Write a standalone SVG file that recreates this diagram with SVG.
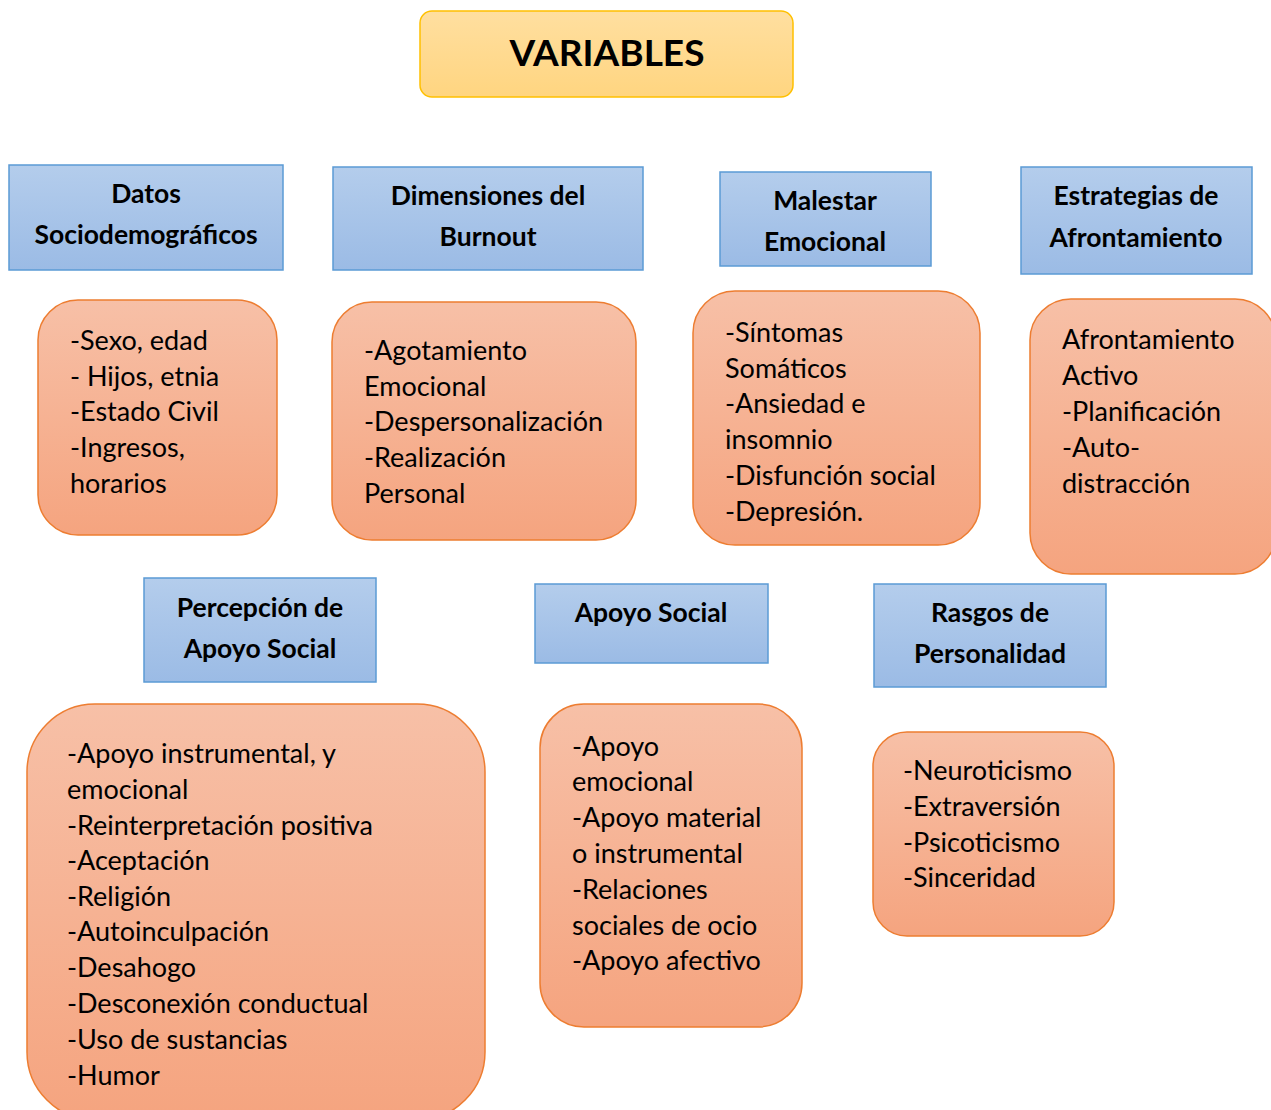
<svg xmlns="http://www.w3.org/2000/svg" width="1271" height="1110" viewBox="0 0 1271 1110">
<defs>
<linearGradient id="gY" x1="0" y1="0" x2="0" y2="1"><stop offset="0" stop-color="#FFDFA0"/><stop offset="1" stop-color="#FFD580"/></linearGradient>
<linearGradient id="gB" x1="0" y1="0" x2="0" y2="1"><stop offset="0" stop-color="#B4CDEC"/><stop offset="1" stop-color="#9BBBE5"/></linearGradient>
<linearGradient id="gO" x1="0" y1="0" x2="0" y2="1"><stop offset="0" stop-color="#F7C0A7"/><stop offset="1" stop-color="#F5A47F"/></linearGradient>
<style>
.title{fill:url(#gY);stroke:#FFC000;stroke-width:1.5}
.hdr{fill:url(#gB);stroke:#5B9BD5;stroke-width:1.5}
.box{fill:url(#gO);stroke:#ED7D31;stroke-width:1.5}
text{font-family:Lato,"Open Sans",sans-serif;fill:#000}
.t{font-size:37px;font-weight:bold;text-anchor:middle}
.h{font-size:26.5px;font-weight:bold;text-anchor:middle}
.b{font-size:27px}
</style>
</defs>
<g id="title">
<rect class="title" x="420" y="11" width="373" height="86" rx="12"/>
<text class="t" x="607" y="66">VARIABLES</text>
</g>
<g id="h-datos">
<rect class="hdr" x="9" y="165" width="274" height="105"/>
<text class="h" x="146" y="203">Datos</text>
<text class="h" x="146" y="244">Sociodemográficos</text>
</g>
<g id="h-burnout">
<rect class="hdr" x="333" y="167" width="310" height="103"/>
<text class="h" x="488" y="205">Dimensiones del</text>
<text class="h" x="488" y="246">Burnout</text>
</g>
<g id="h-malestar">
<rect class="hdr" x="720" y="172" width="211" height="94"/>
<text class="h" x="825" y="210">Malestar</text>
<text class="h" x="825" y="251">Emocional</text>
</g>
<g id="h-estrategias">
<rect class="hdr" x="1021" y="167" width="231" height="107"/>
<text class="h" x="1136" y="205">Estrategias de</text>
<text class="h" x="1136" y="247">Afrontamiento</text>
</g>
<g id="h-percepcion">
<rect class="hdr" x="144" y="578" width="232" height="104"/>
<text class="h" x="260" y="617">Percepción de</text>
<text class="h" x="260" y="658">Apoyo Social</text>
</g>
<g id="h-apoyo">
<rect class="hdr" x="535" y="584" width="233" height="79"/>
<text class="h" x="651" y="622">Apoyo Social</text>
</g>
<g id="h-rasgos">
<rect class="hdr" x="874" y="584" width="232" height="103"/>
<text class="h" x="990" y="622">Rasgos de</text>
<text class="h" x="990" y="663">Personalidad</text>
</g>
<g id="b-datos">
<rect class="box" x="38" y="300" width="239" height="235" rx="40"/>
<text class="b" x="70" y="350">-Sexo, edad</text>
<text class="b" x="70" y="386">- Hijos, etnia</text>
<text class="b" x="70" y="421">-Estado Civil</text>
<text class="b" x="70" y="457">-Ingresos,</text>
<text class="b" x="70" y="493">horarios</text>
</g>
<g id="b-burnout">
<rect class="box" x="332" y="302" width="304" height="238" rx="40"/>
<text class="b" x="364" y="360">-Agotamiento</text>
<text class="b" x="364" y="396">Emocional</text>
<text class="b" x="364" y="431">-Despersonalización</text>
<text class="b" x="364" y="467">-Realización</text>
<text class="b" x="364" y="503">Personal</text>
</g>
<g id="b-malestar">
<rect class="box" x="693" y="291" width="287" height="254" rx="42"/>
<text class="b" x="725" y="342">-Síntomas</text>
<text class="b" x="725" y="378">Somáticos</text>
<text class="b" x="725" y="413">-Ansiedad e</text>
<text class="b" x="725" y="449">insomnio</text>
<text class="b" x="725" y="485">-Disfunción social</text>
<text class="b" x="725" y="521">-Depresión.</text>
</g>
<g id="b-estrategias">
<rect class="box" x="1030" y="299" width="246" height="275" rx="41"/>
<text class="b" x="1062" y="349">Afrontamiento</text>
<text class="b" x="1062" y="385">Activo</text>
<text class="b" x="1062" y="421">-Planificación</text>
<text class="b" x="1062" y="457">-Auto-</text>
<text class="b" x="1062" y="493">distracción</text>
</g>
<g id="b-percepcion">
<rect class="box" x="27" y="704" width="458" height="416" rx="68"/>
<text class="b" x="67" y="763">-Apoyo instrumental, y</text>
<text class="b" x="67" y="799">emocional</text>
<text class="b" x="67" y="835">-Reinterpretación positiva</text>
<text class="b" x="67" y="870">-Aceptación</text>
<text class="b" x="67" y="906">-Religión</text>
<text class="b" x="67" y="941">-Autoinculpación</text>
<text class="b" x="67" y="977">-Desahogo</text>
<text class="b" x="67" y="1013">-Desconexión conductual</text>
<text class="b" x="67" y="1049">-Uso de sustancias</text>
<text class="b" x="67" y="1085">-Humor</text>
</g>
<g id="b-apoyo">
<rect class="box" x="540" y="704" width="262" height="323" rx="44"/>
<text class="b" x="572" y="756">-Apoyo</text>
<text class="b" x="572" y="791">emocional</text>
<text class="b" x="572" y="827">-Apoyo material</text>
<text class="b" x="572" y="863">o instrumental</text>
<text class="b" x="572" y="899">-Relaciones</text>
<text class="b" x="572" y="935">sociales de ocio</text>
<text class="b" x="572" y="970">-Apoyo afectivo</text>
</g>
<g id="b-rasgos">
<rect class="box" x="873" y="732" width="241" height="204" rx="34"/>
<text class="b" x="903" y="780">-Neuroticismo</text>
<text class="b" x="903" y="816">-Extraversión</text>
<text class="b" x="903" y="852">-Psicoticismo</text>
<text class="b" x="903" y="887">-Sinceridad</text>
</g>
<g id="connectors"></g>
</svg>
